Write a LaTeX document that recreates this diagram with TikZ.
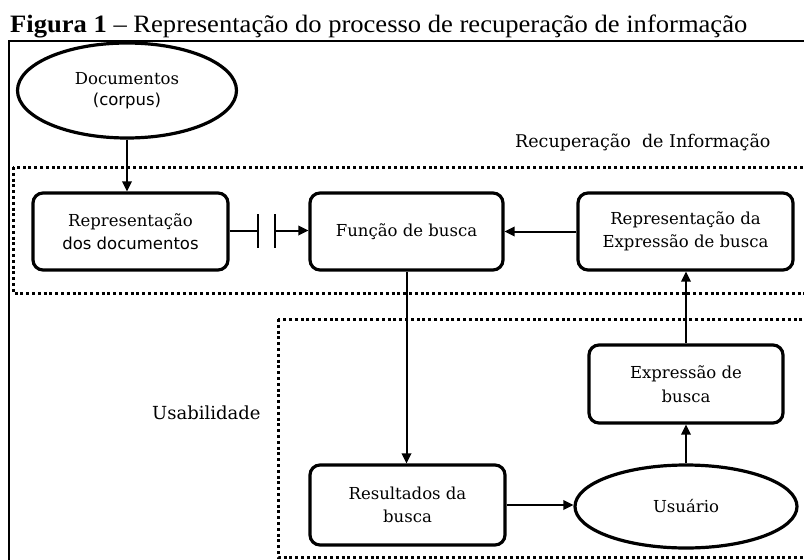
\documentclass[tikz,border=0pt]{standalone}
\usepackage{fontspec}
\setmainfont{Liberation Serif}
\newfontfamily\dvserif{DejaVu Serif}
\newfontfamily\dvsans{DejaVu Sans}
\usetikzlibrary{shapes.geometric,arrows.meta}
\begin{document}
\begin{tikzpicture}[x=1pt,y=-1pt,
  frame/.style={draw=black, line width=2.4pt},
  region/.style={draw=black, line width=3pt, dash pattern=on 3pt off 2.8pt},
  box/.style={draw=black, line width=3.2pt, rounded corners=10pt, inner sep=0pt, align=center,
    font=\dvserif\fontsize{16.5}{23.5}\selectfont},
  ell/.style={draw=black, ellipse, line width=3.2pt, inner sep=0pt, align=center,
    font=\dvserif\fontsize{16.5}{21.5}\selectfont},
  lbl/.style={inner sep=0pt, font=\dvserif\fontsize{17.5}{20}\selectfont},
  conn/.style={draw=black, line width=2pt},
  arr/.style={conn, -{Triangle[length=10pt,width=9.5pt]}}]
\useasboundingbox (0,0) rectangle (804,560);
\clip (0,0) rectangle (804,560);
% title
\node[anchor=base west, inner sep=0pt, font=\fontsize{25}{30}\selectfont] (title) at (10,32)
  {\scalebox{1.063}[1]{\textbf{Figura 1} -- Representação do processo de recuperação de informação}};
% frame and regions
\draw[frame] (9,41) rectangle (830,600);
\draw[region] (13,167) rectangle (830,293);
\draw[region] (278,319) rectangle (830,557);
% labels
\node[lbl, anchor=base west] (rec) at (515,147) {Recuperação\ \ de Informação};
\node[lbl, anchor=base west, font=\dvserif\fontsize{18}{20}\selectfont] (usa) at (152,419) {Usabilidade};
% nodes
\node[ell, minimum width=219pt, minimum height=95pt] (doc) at (127,90.5) {Documentos\\{\dvsans (corpus)}};
\node[box, minimum width=195pt, minimum height=77pt] (b1) at (130.5,231.5) {Representação\\{\dvsans dos documentos}};
\node[box, minimum width=193pt, minimum height=77pt] (b2) at (406.5,231.5) {Função de busca};
\node[box, minimum width=215pt, minimum height=77pt] (b3) at (685.5,231.5) {Representação da\\Expressão de busca};
\node[box, minimum width=194pt, minimum height=78pt] (ex) at (686,384) {Expressão de\\busca};
\node[box, minimum width=195pt, minimum height=80pt] (res) at (407.5,505) {Resultados da\\busca};
\node[ell, minimum width=222pt, minimum height=83pt] (usr) at (686,506.5) {Usuário};
% connectors
\coordinate (t1) at (258,230.5);
\coordinate (t2) at (275,230.5);
\draw[arr] (doc.south) -- (doc.south |- b1.north);
\draw[conn] (b1.east |- t1) -- (t1);
\draw[conn] ([yshift=-17pt]t1) -- ([yshift=17pt]t1);
\draw[conn] ([yshift=-17pt]t2) -- ([yshift=17pt]t2);
\draw[arr] (t2) -- (t2 -| b2.west);
\draw[arr] (b3.west) -- (b2.east);
\draw[arr] (b2.south) -- (b2.south |- res.north);
\draw[arr] (res.east) -- (usr.west |- res.east);
\draw[arr] (usr.north) -- (ex.south);
\draw[arr] (ex.north) -- (ex.north |- b3.south);
\end{tikzpicture}
\end{document}
